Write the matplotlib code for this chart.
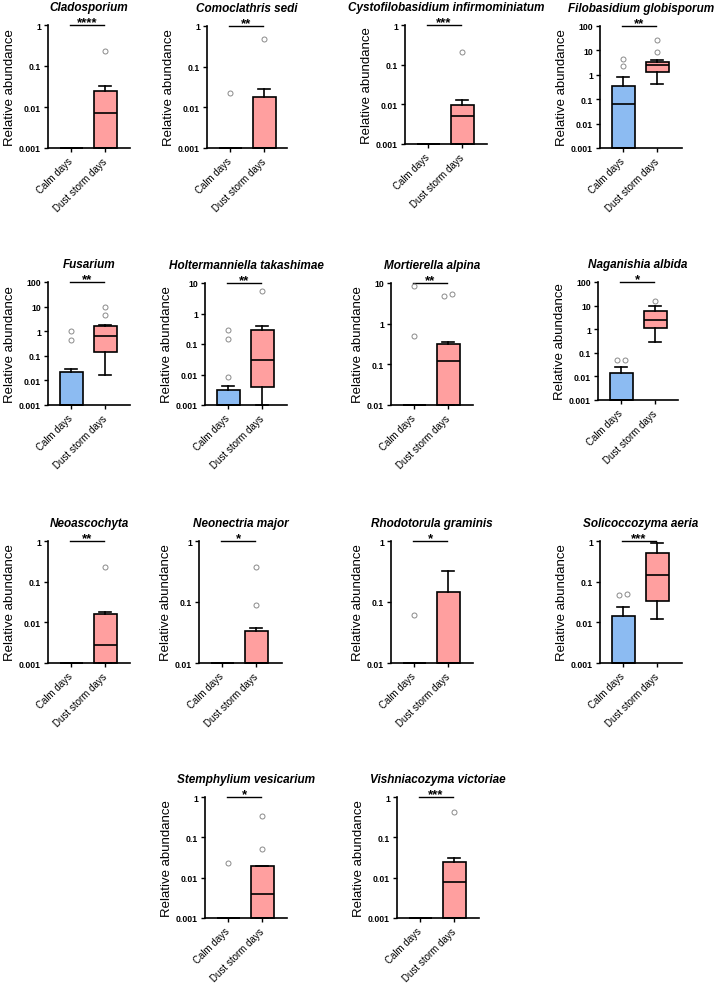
import matplotlib.pyplot as plt
from matplotlib.ticker import NullLocator
import numpy as np

plt.rcParams['font.family'] = ['Liberation Sans', 'DejaVu Sans']

groups = ['Calm days', 'Dust storm days']
taxa = ['Cladosporium', 'Comoclathris sedi', 'Cystofilobasidium infirmominiatum',
        'Filobasidium globisporum', 'Fusarium', 'Holtermanniella takashimae',
        'Mortierella alpina', 'Naganishia albida', 'Neoascochyta', 'Neonectria major',
        'Rhodotorula graminis', 'Solicoccozyma aeria', 'Stemphylium vesicarium',
        'Vishniacozyma victoriae']
stars = ['****', '**', '***', '**', '**', '**', '**', '*', '**', '*', '*', '***', '*', '***']
y_min = [0.001, 0.001, 0.001, 0.001, 0.001, 0.001, 0.01, 0.001, 0.001, 0.01, 0.01, 0.001, 0.001, 0.001]
y_max = [1, 1, 1, 100, 100, 10, 10, 100, 1, 1, 1, 1, 1, 1]

# box stats: (whisker low, q1, median, q3, whisker high)
calm_stats = [
    (0.001, 0.001, 0.001, 0.001, 0.001),
    (0.001, 0.001, 0.001, 0.001, 0.001),
    (0.001, 0.001, 0.001, 0.001, 0.001),
    (0.001, 0.001, 0.062, 0.35, 0.83),
    (0.001, 0.001, 0.001, 0.021, 0.029),
    (0.001, 0.001, 0.001, 0.0030, 0.0042),
    (0.01, 0.01, 0.01, 0.01, 0.01),
    (0.001, 0.001, 0.001, 0.014, 0.024),
    (0.001, 0.001, 0.001, 0.001, 0.001),
    (0.01, 0.01, 0.01, 0.01, 0.01),
    (0.01, 0.01, 0.01, 0.01, 0.01),
    (0.001, 0.001, 0.001, 0.0144, 0.0244),
    (0.001, 0.001, 0.001, 0.001, 0.001),
    (0.001, 0.001, 0.001, 0.001, 0.001),
]
calm_out = [[], [0.023], [], [4.3, 2.3], [0.98, 0.45], [0.29, 0.15, 0.0085],
            [8.4, 0.51], [0.049, 0.052], [], [], [0.061], [0.046, 0.050], [0.023], []]

dust_stats = [
    (0.001, 0.001, 0.0072, 0.025, 0.033),
    (0.001, 0.001, 0.001, 0.018, 0.029),
    (0.001, 0.001, 0.0052, 0.0098, 0.013),
    (0.41, 1.26, 2.5, 3.4, 3.9),
    (0.017, 0.14, 0.65, 1.6, 1.8),
    (0.001, 0.0039, 0.029, 0.285, 0.40),
    (0.01, 0.01, 0.118, 0.32, 0.36),
    (0.29, 1.18, 2.5, 5.8, 9.2),
    (0.001, 0.001, 0.0028, 0.016, 0.0178),
    (0.01, 0.01, 0.01, 0.034, 0.037),
    (0.01, 0.01, 0.01, 0.145, 0.32),
    (0.0118, 0.0335, 0.149, 0.50, 0.91),
    (0.001, 0.001, 0.004, 0.019, 0.019),
    (0.001, 0.001, 0.0078, 0.025, 0.030),
]
dust_out = [[0.23], [0.47], [0.21], [26, 8.6], [9.3, 4.4], [5.6], [4.7, 5.3], [15.6],
            [0.226], [0.375, 0.089], [], [], [0.33, 0.05], [0.42]]

# panel placement in pixels: left, top, width, height
panel_px = [
    (48, 26, 82, 123), (207, 27, 80, 122), (405, 26, 82, 119), (600, 27, 82, 122),
    (48, 283, 82, 123), (205, 284, 82, 122), (391, 284, 82, 122), (598, 283, 80, 118),
    (48, 542, 82, 122), (199, 542, 83, 122), (391, 542, 82, 122), (600, 542, 82, 122),
    (205, 798, 82, 121), (397, 798, 82, 121),
]

colors = ['#8cbbf2', '#ff9f9f']
W, H = 718, 987


def spread(vals, x0):
    # nudge outliers that would overlap sideways
    xs = [x0] * len(vals)
    lv = np.log10(vals) if len(vals) else []
    for a in range(len(vals)):
        for b in range(a + 1, len(vals)):
            if abs(lv[a] - lv[b]) < 0.12:
                xs[a] = x0 - 0.12
                xs[b] = x0 + 0.12
    return xs


fig = plt.figure(figsize=(W / 100, H / 100), dpi=100)

for i, name in enumerate(taxa):
    l, t, w, h = panel_px[i]
    ax = fig.add_axes([l / W, 1 - (t + h) / H, w / W, h / H])
    ax.set_yscale('log')

    stats = []
    for s in (calm_stats[i], dust_stats[i]):
        wl, q1, med, q3, wh = s
        stats.append(dict(whislo=wl, q1=q1, med=med, q3=q3, whishi=wh, fliers=[]))
    lw = 1.2
    res = ax.bxp(stats, positions=[0, 1], widths=0.68, capwidths=0.34,
                 patch_artist=True, showfliers=False,
                 boxprops=dict(linewidth=lw, edgecolor='black'),
                 medianprops=dict(color='black', linewidth=lw),
                 whiskerprops=dict(color='black', linewidth=lw),
                 capprops=dict(color='black', linewidth=lw))
    for patch, c in zip(res['boxes'], colors):
        patch.set_facecolor(c)
    for arts in res.values():
        for a in arts:
            a.set_clip_on(False)

    for x0, out in ((0, calm_out[i]), (1, dust_out[i])):
        if out:
            ax.plot(spread(out, x0), out, 'o', mfc='none', mec='#8a8a8a',
                    ms=3.6, mew=0.7, clip_on=False, zorder=4)

    ax.set_xlim(-0.68, -0.68 + w / 34)
    ax.set_ylim(y_min[i], y_max[i])
    dec = 10.0 ** np.arange(np.log10(y_min[i]), np.log10(y_max[i]) + 0.5)
    ax.set_yticks(dec)
    ax.set_yticklabels(['%g' % d for d in dec], fontweight='bold', fontsize=6.2)
    ax.yaxis.set_minor_locator(NullLocator())
    ax.set_xticks([0, 1])
    ax.set_xticklabels(groups, rotation=45, ha='right', va='center',
                       rotation_mode='anchor', fontsize=7)
    ax.tick_params(direction='out', length=3, width=1, pad=2, colors='black')
    ax.tick_params(axis='x', pad=5)
    for sp in ('top', 'right'):
        ax.spines[sp].set_visible(False)
    for sp in ('left', 'bottom'):
        ax.spines[sp].set_linewidth(1.2)
    ax.set_ylabel('Relative abundance', fontsize=9.5, labelpad=2)

    # significance bar
    ax.plot([-0.03, 0.97], [y_max[i], y_max[i]], color='black', lw=1, clip_on=False)
    ax.annotate(stars[i], xy=(0.47, y_max[i]), xytext=(0, 0), textcoords='offset points',
                ha='center', va='baseline', fontsize=9.5, fontweight='bold')
    ax.annotate(name, xy=(0.5, 1), xycoords='axes fraction', xytext=(0, 11),
                textcoords='offset points', ha='center', va='baseline',
                fontsize=8.5, fontweight='bold', fontstyle='italic')

fig.savefig('out.png', dpi=100)
